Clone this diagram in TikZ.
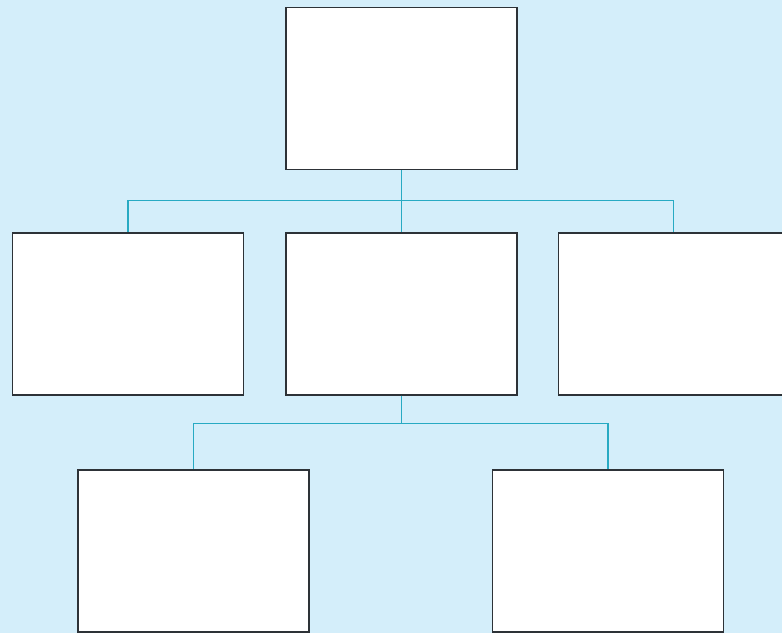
\documentclass[tikz,border=0pt]{standalone}
\usepackage{tikz}

\definecolor{bgblue}{RGB}{212,238,250}
\definecolor{linkteal}{RGB}{40,170,195}
\definecolor{boxline}{RGB}{45,50,55}

\tikzset{
    orgbox/.style={draw=boxline, fill=white, line width=0.9pt, minimum width=5.775cm, minimum height=4.05cm, inner sep=0pt},
    link/.style={draw=linkteal, line width=0.9pt}
}

\begin{document}
\begin{tikzpicture}[x=0.025cm, y=-0.025cm]
% Background
\fill[bgblue] (0,0) rectangle (782,633);
\useasboundingbox (0,0) rectangle (782,633);
\clip (0,0) rectangle (782,633);

% Top level
\node[orgbox] (head) at (401.5,88.5) {};

% Second level (right box runs off the edge)
\node[orgbox] (left)  at (128,314) {};
\node[orgbox] (mid)   at (401.5,314) {};
\node[orgbox, minimum width=7cm, anchor=west] (right) at (558,314) {};
\coordinate (rightdrop) at ([xshift=2.8875cm]right.north west);

% Third level
\node[orgbox] (subleft)  at (193.5,551) {};
\node[orgbox] (subright) at (608,551) {};

% Connectors
\draw[link] (head.south) -- (mid.north);
\draw[link] (head.south) -- ++(0,30) -| (left.north);
\draw[link] (head.south) -- ++(0,30) -| (rightdrop);
\draw[link] (mid.south) -- ++(0,28) -| (subleft.north);
\draw[link] (mid.south) -- ++(0,28) -| (subright.north);
\end{tikzpicture}
\end{document}
